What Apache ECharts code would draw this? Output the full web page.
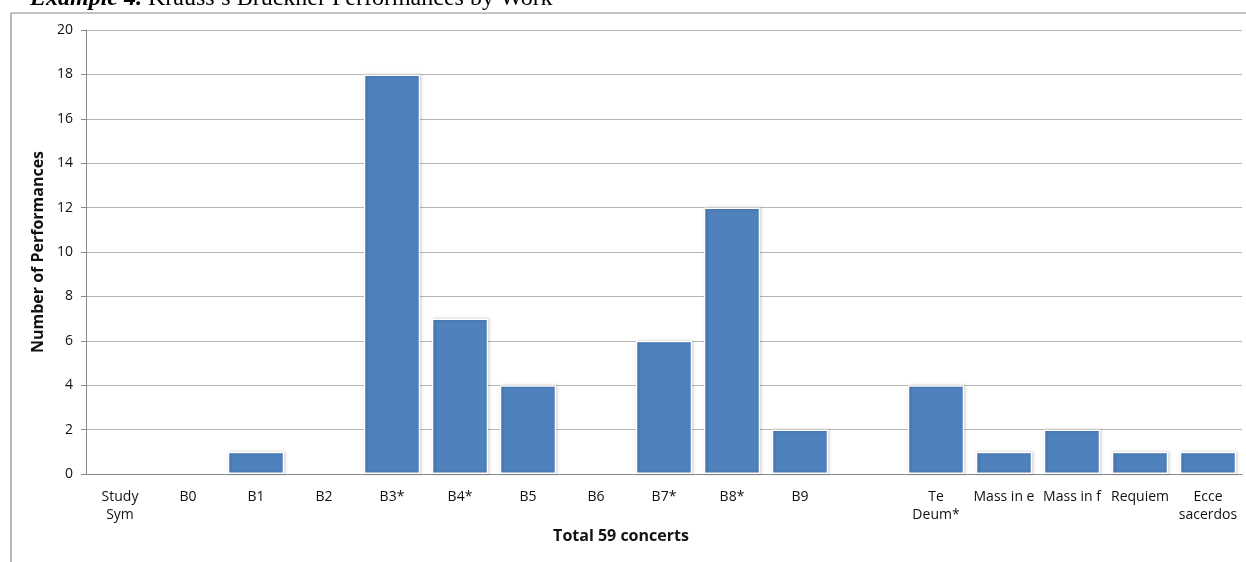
<!DOCTYPE html>
<html><head><meta charset="utf-8">
<script src="https://cdn.jsdelivr.net/npm/echarts@6/dist/echarts.min.js"></script>
<style>html,body{margin:0;padding:0;background:#fff}#c{width:1246px;height:562px}</style>
</head><body><div id="c"></div>
<script>
const categories = ['Study\nSym','B0','B1','B2','B3*','B4*','B5','B6','B7*','B8*','B9','','Te\nDeum*','Mass in e','Mass in f','Requiem','Ecce\nsacerdos'];
const performances = [0,0,1,0,18,7,4,0,6,12,2,0,4,1,2,1,1];
const yTicks = [0,2,4,6,8,10,12,14,16,18,20];
const font = '"Open Sans", "Noto Sans", sans-serif';
const chart = echarts.init(document.getElementById('c'));
const barData = performances.map(v => v === 0
  ? {value:v, itemStyle:{borderWidth:0, shadowBlur:0, shadowColor:'transparent'}}
  : {value:v});
chart.setOption({
  animation:false,
  grid:{left:86,right:4,top:30,bottom:88,containLabel:false},
  graphic:[
    {type:'line',shape:{x1:11,y1:13,x2:1246,y2:13},style:{stroke:'#888',lineWidth:1.2}},
    {type:'line',shape:{x1:11,y1:13,x2:11,y2:562},style:{stroke:'#888',lineWidth:1.2}},
    {type:'text',left:30,top:-13,style:{text:'{b|Example 4.} Krauss\u2019s Bruckner Performances by Work',rich:{b:{fontFamily:'"Liberation Serif", serif',fontSize:24,fontWeight:'bold',fontStyle:'italic',fill:'#000'}},fontFamily:'"Liberation Serif", serif',fontSize:24,fill:'#000'}}
  ],
  xAxis:{type:'category',data:categories,
    axisLine:{lineStyle:{color:'#888'}},axisTick:{show:false},
    axisLabel:{interval:0,color:'#111',fontFamily:font,fontSize:14,margin:14,lineHeight:18},
    name:'Total 59 concerts',nameLocation:'middle',nameGap:52,
    nameTextStyle:{fontFamily:font,fontSize:16,fontWeight:'bold',color:'#111',padding:[0,86,0,0]}},
  yAxis:{type:'value',min:0,max:20,interval:2,
    axisLine:{show:true,lineStyle:{color:'#888'}},
    axisTick:{show:true,length:5,lineStyle:{color:'#888'}},
    splitLine:{lineStyle:{color:'#b5b5b5'}},
    axisLabel:{color:'#111',fontFamily:font,fontSize:14,margin:13},
    name:'Number of Performances',nameLocation:'middle',nameGap:32,
    nameTextStyle:{fontFamily:font,fontSize:16,fontWeight:'bold',color:'#111'}},
  series:[{type:'bar',data:barData,barCategoryGap:'17%',
    itemStyle:{color:'#4f81bd',borderColor:'#fff',borderWidth:1.5,shadowColor:'rgba(0,0,0,0.25)',shadowBlur:3,shadowOffsetX:1,shadowOffsetY:0}}]
});
</script></body></html>
